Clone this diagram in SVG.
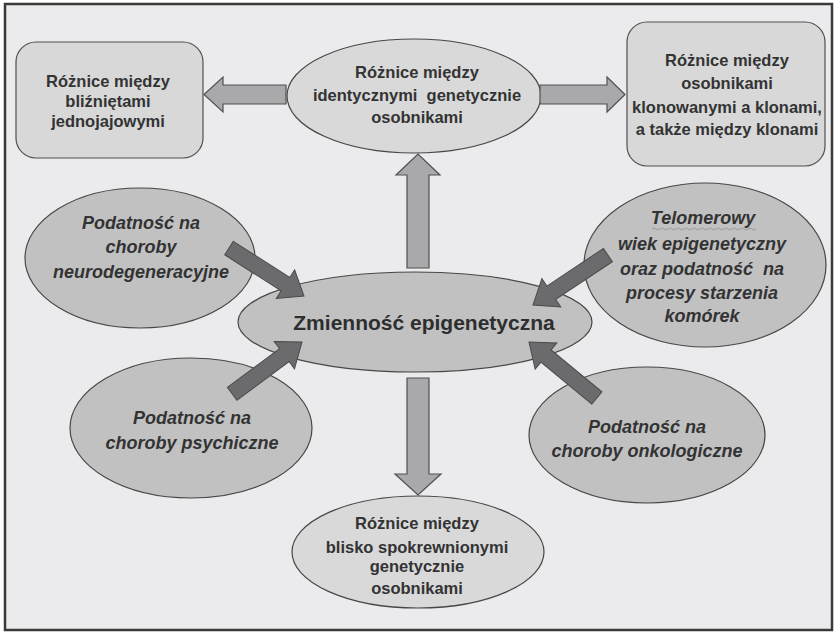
<svg xmlns="http://www.w3.org/2000/svg" width="834" height="633" viewBox="0 0 834 633">
<style>
  .bg{fill:#ebebed;stroke:#3a3a3a;stroke-width:2.5}
  .box{fill:#d8d8d9;stroke:#505050;stroke-width:1.2}
  .light{fill:#d9d9da;stroke:#474747;stroke-width:1.2}
  .mid{fill:#c1c1c2;stroke:#474747;stroke-width:1.2}
  .t{font-family:"Liberation Sans",Arial,sans-serif;font-weight:bold;font-size:16.5px;fill:#333;text-anchor:middle}
  .ti{font-family:"Liberation Sans",Arial,sans-serif;font-weight:bold;font-style:italic;font-size:18px;fill:#333;text-anchor:middle}
  .tc{font-family:"Liberation Sans",Arial,sans-serif;font-weight:bold;font-size:21px;fill:#2e2e2e;text-anchor:middle}
  .la{fill:#a9a9ab;stroke:#505050;stroke-width:1.2}
  .da{fill:#6b6b6d;stroke:#4a4a4a;stroke-width:1}
</style>
<rect class="bg" x="5" y="4" width="827" height="626"/>

<g id="node-blizneta">
  <rect class="box" x="16" y="42" width="187" height="116" rx="20" ry="20"/>
  <text class="t" x="108" y="87">Różnice między</text>
  <text class="t" x="108" y="107">bliźniętami</text>
  <text class="t" x="108" y="127">jednojajowymi</text>
</g>

<g id="node-identyczne">
  <ellipse class="light" cx="414" cy="96" rx="127" ry="57"/>
  <text class="t" x="417" y="78">Różnice między</text>
  <text class="t" x="417" y="101" xml:space="preserve">identycznymi  genetycznie</text>
  <text class="t" x="417" y="123">osobnikami</text>
</g>

<g id="node-klony">
  <rect class="box" x="627" y="22" width="198" height="144" rx="20" ry="20"/>
  <text class="t" x="727" y="66">Różnice między</text>
  <text class="t" x="727" y="89">osobnikami</text>
  <text class="t" x="727" y="113">klonowanymi a klonami,</text>
  <text class="t" x="727" y="135">a także między klonami</text>
</g>

<g id="node-neuro">
  <ellipse class="mid" cx="140" cy="258" rx="115" ry="70"/>
  <text class="ti" x="141" y="229">Podatność na</text>
  <text class="ti" x="141" y="253">choroby</text>
  <text class="ti" x="141" y="278">neurodegeneracyjne</text>
</g>

<g id="node-telomer">
  <ellipse class="mid" cx="705" cy="265" rx="121" ry="82"/>
  <text class="ti" x="703" y="224">Telomerowy</text>
  <path d="M652,229 q2,-2 4,0 t4,0 t4,0 t4,0 t4,0 t4,0 t4,0 t4,0 t4,0 t4,0 t4,0 t4,0 t4,0 t4,0 t4,0 t4,0 t4,0 t4,0 t4,0 t4,0 t4,0 t4,0 t4,0 t4,0 t4,0 t4,0" fill="none" stroke="#9a9a9a" stroke-width="1"/>
  <text class="ti" x="702" y="250">wiek epigenetyczny</text>
  <text class="ti" x="702" y="275" xml:space="preserve">oraz podatność  na</text>
  <text class="ti" x="702" y="299">procesy starzenia</text>
  <text class="ti" x="702" y="322">komórek</text>
</g>

<g id="node-center">
  <ellipse class="mid" cx="415" cy="322" rx="177" ry="50"/>
  <text class="tc" x="424" y="330">Zmienność epigenetyczna</text>
</g>

<g id="node-psych">
  <ellipse class="mid" cx="191" cy="428" rx="121" ry="70"/>
  <text class="ti" x="192" y="424">Podatność na</text>
  <text class="ti" x="192" y="449">choroby psychiczne</text>
</g>

<g id="node-onko">
  <ellipse class="mid" cx="647" cy="435" rx="118" ry="68"/>
  <text class="ti" x="647" y="433">Podatność na</text>
  <text class="ti" x="647" y="457">choroby onkologiczne</text>
</g>

<g id="node-spokrewnione">
  <ellipse class="light" cx="418" cy="552" rx="126" ry="56"/>
  <text class="t" x="417" y="529">Różnice między</text>
  <text class="t" x="417" y="553">blisko spokrewnionymi</text>
  <text class="t" x="417" y="572">genetycznie</text>
  <text class="t" x="417" y="594">osobnikami</text>
</g>

<g id="connectors">
  <polygon class="la" points="286,85 223,85 223,77 204,94.5 223,112 223,104 286,104"/>
  <polygon class="la" points="540,85 607,85 607,77 625,94.5 607,112 607,104 540,104"/>
  <polygon class="la" points="407,268 407,175 396,175 418,154 440,175 429,175 429,268"/>
  <polygon class="la" points="407,378 407,474 395,474 418,495 441,474 429,474 429,378"/>
  <g transform="translate(304,296) rotate(32.6)"><polygon class="da" points="-89,-8 -22,-8 -22,-17 0,0 -22,17 -22,8 -89,8"/></g>
  <g transform="translate(302,342) rotate(-36.6)"><polygon class="da" points="-87,-8 -22,-8 -22,-17 0,0 -22,17 -22,8 -87,8"/></g>
  <g transform="translate(533,305) rotate(146.3)"><polygon class="da" points="-90,-8 -22,-8 -22,-17 0,0 -22,17 -22,8 -90,8"/></g>
  <g transform="translate(529,342) rotate(-140.5)"><polygon class="da" points="-88,-8 -22,-8 -22,-17 0,0 -22,17 -22,8 -88,8"/></g>
</g>
</svg>
